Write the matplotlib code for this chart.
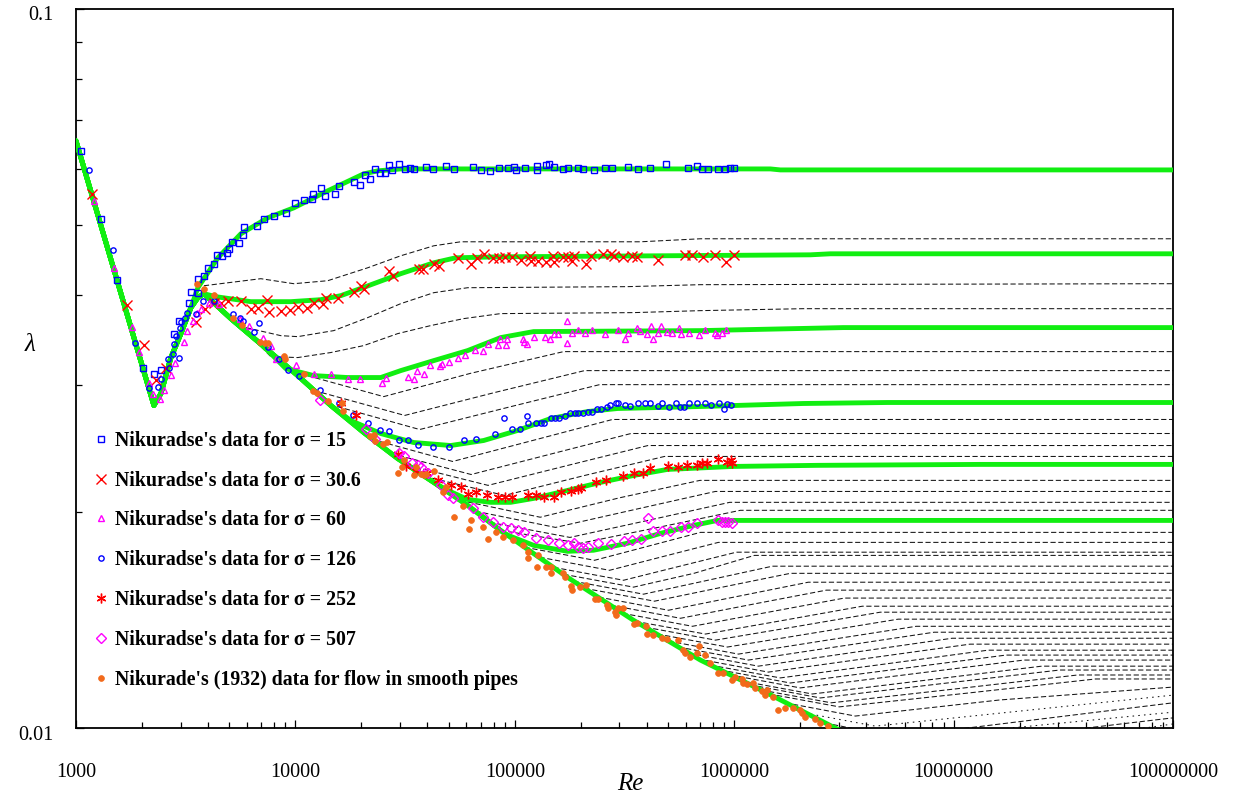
import matplotlib
matplotlib.use("Agg")
import matplotlib.pyplot as plt
from matplotlib.ticker import FixedLocator, FixedFormatter, LogLocator, NullFormatter
from matplotlib.transforms import ScaledTranslation

plt.rcParams['font.family'] = ['Liberation Serif', 'DejaVu Serif']

# ---------------- model curves (green) ----------------
trunk_re = [1000, 2265, 2438, 2708, 3006, 3339, 3593, 3828]
trunk_lam = [0.06555, 0.02809, 0.02919, 0.03275, 0.03536, 0.03842, 0.03967, 0.04018]

smooth_re = [5080, 7180, 10250, 14500, 20480, 29260, 41360, 60960, 86160,
             174000, 347600, 701600, 1416000, 2830000, 3382000]
smooth_lam = [0.0371, 0.03392, 0.03091, 0.02809, 0.02576, 0.0237, 0.0221, 0.0204, 0.01883,
              0.0162, 0.01412, 0.01243, 0.01118, 0.01003, 0.00976]

s15_re = [3593, 4432, 5642, 7486, 9833, 14040, 20480, 23720, 30200, 1462000, 1623000, 1e8]
s15_lam = [0.04096, 0.04508, 0.04868, 0.05124, 0.0529, 0.05586, 0.05898, 0.05955, 0.05992,
           0.05992, 0.05973, 0.05973]

s30_re = [4341, 6265, 9528, 13050, 16095, 20920, 30200, 42680, 53770, 86160, 2223000, 2742000, 1e8]
s30_lam = [0.0398, 0.03917, 0.03917, 0.03942, 0.03993, 0.0411, 0.04284, 0.04436, 0.04508,
           0.04522, 0.04551, 0.04566, 0.04566]

s60_re = [9043, 12130, 17320, 24480, 30200, 42680, 60960, 86160, 121800, 701600, 3143000, 1e8]
s60_lam = [0.03161, 0.03091, 0.03072, 0.03072, 0.03141, 0.03243, 0.03349, 0.03491, 0.03559,
           0.0357, 0.03605, 0.03605]

s126_re = [17870, 24480, 34600, 51010, 72100, 102960, 145600, 214600, 293900, 701600,
           2066000, 4983000, 1e8]
s126_lam = [0.02677, 0.02568, 0.02495, 0.02471, 0.02511, 0.02593, 0.02694, 0.02755, 0.02782,
            0.028, 0.02827, 0.02836, 0.02836]

s252_re = [48410, 60960, 77590, 95690, 121800, 174000, 245900, 347600, 496400, 991700,
           2392000, 13220000, 1e8]
s252_lam = [0.02147, 0.02079, 0.0206, 0.0206, 0.02086, 0.0214, 0.02196, 0.02245, 0.02289,
            0.02311, 0.02319, 0.02326, 0.02326]

s507_re = [90800, 121800, 174000, 228500, 326400, 461300, 652000, 838400, 1e8]
s507_lam = [0.01859, 0.01795, 0.01761, 0.01767, 0.01807, 0.01865, 0.01913, 0.01944, 0.01944]

# ---------------- intermediate roughness family (black) ----------------
family_re = [
    [3828, 6957, 9833, 14040, 21360, 30200, 42680, 56650, 374100, 701600, 1e8],
    [5947, 8580, 10250, 14950, 21360, 30200, 42680, 60960, 326400, 701600, 1e8],
    [6603, 7726, 10250, 14490, 20480, 29260, 41360, 58460, 86160, 347600, 701600, 2066000, 1e8],
    [9728, 25260, 62910, 166900, 1e8],
    [12170, 31500, 80920, 208000, 1e8],
    [14340, 36850, 94700, 243400, 1e8],
    [22500, 52080, 120500, 278800, 1e8],
    [27330, 63240, 146400, 338600, 1e8],
    [32640, 75510, 174800, 404400, 1e8],
    [38840, 89870, 208000, 481100, 1e8],
    [56370, 130600, 300000, 698000, 1e8],
    [66240, 153300, 354600, 820500, 1e8],
    [77060, 178400, 412900, 954400, 1e8],
    [86160, 199400, 461300, 1067000, 1e8],
    [110900, 230900, 402500, 701600, 1e8],
    [129700, 270200, 478400, 847000, 1e8],
    [150300, 313000, 565600, 1023000, 1e8],
    [166900, 347600, 655200, 1236000, 1e8],
    [185200, 386100, 758400, 1493000, 1e8],
    [208000, 433300, 883500, 1803000, 1e8],
    [240700, 501400, 1045000, 2176000, 1e8],
    [273100, 568900, 1223000, 2630000, 1e8],
    [309700, 645100, 1431000, 3176000, 1e8],
    [355000, 739500, 1683000, 3834000, 1e8],
    [394300, 821300, 1949000, 4631000, 1e8],
    [447000, 931100, 2281000, 5590000, 1e8],
    [501400, 1045000, 2657000, 6754000, 1e8],
    [556900, 1160000, 3077000, 8156000, 1e8],
    [618400, 1288000, 3565000, 9843000, 1e8],
    [686800, 1431000, 4127000, 11880000, 1e8],
    [779200, 1623000, 4830000, 14340000, 1e8],
    [865300, 1803000, 5590000, 17320000, 1e8],
    [961000, 2002000, 6475000, 20900000, 1e8],
    [1089000, 2270000, 7575000, 25220000, 1e8],
    [1185000, 2469000, 8680000, 30450000, 1e8],
    [1330000, 2771000, 10100000, 36750000, 1e8],
    [1446000, 3013000, 11490000, 44390000, 1e8],
]
family_lam = [
    [0.04122, 0.04216, 0.04149, 0.04189, 0.04366, 0.04537, 0.04684, 0.04745, 0.04745, 0.04791, 0.04791],
    [0.03605, 0.03513, 0.03502, 0.0357, 0.03722, 0.03892, 0.04031, 0.04096, 0.0411, 0.04136, 0.04149],
    [0.03447, 0.03285, 0.03275, 0.03328, 0.03403, 0.03536, 0.03628, 0.0371, 0.0377, 0.03782, 0.03806, 0.0383, 0.0383],
    [0.03131, 0.0289, 0.03114, 0.03338, 0.03338],
    [0.02947, 0.02721, 0.02928, 0.03141, 0.03141],
    [0.02818, 0.02601, 0.02796, 0.03003, 0.03003],
    [0.02519, 0.02348, 0.02511, 0.02686, 0.02686],
    [0.02409, 0.02252, 0.02405, 0.02568, 0.02568],
    [0.02319, 0.02175, 0.02319, 0.02471, 0.02471],
    [0.02238, 0.02106, 0.02245, 0.02386, 0.02386],
    [0.02073, 0.01964, 0.0209, 0.0221, 0.0221],
    [0.02002, 0.01901, 0.02014, 0.02133, 0.02133],
    [0.01932, 0.01841, 0.01947, 0.0206, 0.0206],
    [0.01883, 0.01807, 0.01904, 0.02008, 0.02008],
    [0.01784, 0.01711, 0.01789, 0.01871, 0.01871],
    [0.01728, 0.01657, 0.01733, 0.01812, 0.01812],
    [0.01673, 0.01605, 0.01679, 0.01756, 0.01756],
    [0.01636, 0.0157, 0.01641, 0.01738, 0.01738],
    [0.016, 0.01535, 0.01605, 0.01679, 0.01679],
    [0.01564, 0.01501, 0.0157, 0.01641, 0.01641],
    [0.01521, 0.01458, 0.01525, 0.01595, 0.01595],
    [0.01482, 0.01421, 0.01487, 0.01555, 0.01555],
    [0.01444, 0.01385, 0.01449, 0.01516, 0.01516],
    [0.01407, 0.01351, 0.01412, 0.01477, 0.01477],
    [0.01381, 0.01325, 0.01385, 0.01449, 0.01449],
    [0.01351, 0.01296, 0.01355, 0.01417, 0.01417],
    [0.01321, 0.01267, 0.01325, 0.01385, 0.01385],
    [0.01296, 0.01243, 0.013, 0.01359, 0.01359],
    [0.01271, 0.01219, 0.01275, 0.01333, 0.01333],
    [0.01247, 0.01196, 0.01251, 0.01308, 0.01308],
    [0.01223, 0.01174, 0.01227, 0.01283, 0.01283],
    [0.01204, 0.01155, 0.01208, 0.01263, 0.01263],
    [0.01185, 0.01137, 0.01189, 0.01243, 0.01243],
    [0.01162, 0.01115, 0.01166, 0.01219, 0.01219],
    [0.01148, 0.01101, 0.01152, 0.01204, 0.01204],
    [0.01129, 0.01084, 0.01133, 0.01185, 0.01185],
    [0.01115, 0.0107, 0.01118, 0.0117, 0.0117],
]

# curves still rising at the right edge (very large relative roughness)
tail_re = [
    [1711000, 3565000, 16260000, 1e8],
    [2110000, 4395000, 1e8],
    [2602000, 5421000, 1e8],
    [4170000, 1e8],
    [7820000, 1e8],
    [14640000, 1e8],
    [27430000, 1e8],
]
tail_lam = [
    [0.01084, 0.01039, 0.01094, 0.0114],
    [0.01049, 0.01006, 0.01111],
    [0.01016, 0.00972, 0.01084],
    [0.00957, 0.01052],
    [0.00943, 0.01033],
    [0.00931, 0.01013],
    [0.00923, 0.00997],
]

# ---------------- Nikuradse measurements ----------------
n15_re = [1054, 1300, 1537, 2018, 2265, 2438, 2795, 2944, 3268, 3339, 3593, 3593, 3828, 3991,
          4251, 4387, 4623, 4872, 4973, 5133, 5522, 5760, 5823, 6672, 7180, 7973, 9043, 9938,
          10920, 11870, 12000, 13050, 13610, 15110, 15750, 18440, 19640, 20700, 21810, 22990,
          24220, 25530, 26610, 27480, 29560, 31500, 33190, 34600, 39250, 42230, 48410, 52640,
          64230, 69860, 76780, 84340, 92710, 98750, 100900, 110900, 125700, 125700, 138200,
          142500, 150300, 165100, 174000, 193100, 203600, 228500, 256500, 278800, 326400,
          366100, 411100, 491300, 618400, 679800, 716300, 762600, 847000, 912000, 961000, 1000000]
n15_lam = [0.06348, 0.05107, 0.04202, 0.03171, 0.03111, 0.03151, 0.03536, 0.03686, 0.03904,
           0.04044, 0.04031, 0.04216, 0.04256, 0.04366, 0.04423, 0.04551, 0.04537, 0.0458, 0.0464,
           0.04745, 0.0473, 0.04853, 0.04979, 0.04994, 0.05107, 0.05157, 0.05206, 0.05375, 0.05427,
           0.05445, 0.05533, 0.0564, 0.05497, 0.05533, 0.05676, 0.05749, 0.05694, 0.05879, 0.05804,
           0.05993, 0.05917, 0.05917, 0.0607, 0.05973, 0.0609, 0.05993, 0.06012, 0.05993, 0.06031,
           0.05993, 0.0605, 0.05993, 0.06031, 0.05973, 0.05955, 0.06012, 0.06012, 0.06031, 0.05973,
           0.06012, 0.0605, 0.05973, 0.0607, 0.0609, 0.06031, 0.05993, 0.06012, 0.06012, 0.05993,
           0.05973, 0.06012, 0.06012, 0.06031, 0.05993, 0.06012, 0.0609, 0.06012, 0.0605, 0.05993,
           0.05993, 0.05993, 0.05993, 0.06012, 0.06012]

n30_re = [1182, 1707, 2040, 2314, 2570, 3519, 3868, 4251, 4575, 4923, 5642, 6265, 6741, 7409,
          7562, 8580, 9429, 10250, 11270, 12130, 13320, 13750, 15590, 18440, 19850, 20480, 26610,
          27760, 36450, 38020, 42680, 44960, 54890, 62910, 67000, 72100, 79220, 84340, 89870, 96700,
          106300, 116800, 118000, 127000, 138200, 148700, 150300, 165100, 174000, 181400, 185200,
          210200, 221400, 251100, 273100, 281800, 309700, 343900, 362400, 451500, 599600, 645100,
          724000, 821300, 921500, 1000000]
n30_lam = [0.05533, 0.03879, 0.03414, 0.03052, 0.03171, 0.03674, 0.0383, 0.03904, 0.03904, 0.03929,
           0.03929, 0.0383, 0.03842, 0.03942, 0.03794, 0.03806, 0.03818, 0.03854, 0.03842, 0.03904,
           0.03892, 0.03967, 0.03967, 0.04044, 0.04122, 0.04083, 0.04325, 0.04256, 0.04352, 0.04352,
           0.04423, 0.04394, 0.04508, 0.04423, 0.04508, 0.04566, 0.04508, 0.04508, 0.04522, 0.04522,
           0.04479, 0.04537, 0.04465, 0.04465, 0.04451, 0.04537, 0.04451, 0.04522, 0.04522, 0.04465,
           0.04537, 0.04423, 0.04537, 0.04566, 0.04566, 0.04537, 0.04522, 0.04537, 0.04522, 0.04479,
           0.04551, 0.04551, 0.04522, 0.04551, 0.04451, 0.04551]

n60_re = [1207, 1489, 1799, 1935, 2149, 2241, 2412, 2516, 2708, 2824, 3102, 3201, 3409, 3556, 3709,
          4032, 4477, 5583, 6133, 7103, 7726, 8143, 10040, 12130, 14490, 17320, 19640, 24740, 25800,
          32500, 34600, 35710, 38430, 40930, 45450, 46410, 49930, 54890, 59090, 65620, 71330, 75170,
          83490, 85270, 90800, 91760, 108500, 109700, 113200, 121800, 136700, 144100, 150300, 156700,
          172200, 172200, 181400, 195100, 208000, 226000, 256500, 293900, 316300, 329700, 362400,
          370200, 402500, 419800, 428700, 451500, 466100, 496400, 523100, 563000, 574900, 625200,
          694300, 739500, 821300, 838400, 883500, 921500]
n60_lam = [0.0541, 0.04366, 0.03616, 0.03338, 0.03023, 0.0291, 0.02872, 0.02956, 0.03101, 0.03222,
           0.03447, 0.0357, 0.03686, 0.03782, 0.0383, 0.03904, 0.03892, 0.0371, 0.03628, 0.03491,
           0.03403, 0.03264, 0.03202, 0.03111, 0.03111, 0.03062, 0.03062, 0.03023, 0.03072, 0.03081,
           0.03062, 0.03141, 0.03111, 0.03202, 0.03191, 0.03212, 0.03233, 0.03275, 0.03306, 0.0336,
           0.03349, 0.03425, 0.03414, 0.0348, 0.03414, 0.0348, 0.0348, 0.03447, 0.03425, 0.03502,
           0.03502, 0.0348, 0.03536, 0.03536, 0.03686, 0.03436, 0.03547, 0.03581, 0.03547, 0.03581,
           0.03536, 0.03581, 0.0348, 0.03547, 0.03605, 0.0357, 0.03536, 0.03628, 0.0348, 0.03547,
           0.03628, 0.03559, 0.03547, 0.03605, 0.03536, 0.03547, 0.03525, 0.03581, 0.03547, 0.03525,
           0.03547, 0.03581]

n126_re = [1146, 1473, 1857, 2149, 2362, 2438, 2623, 2650, 2765, 2795, 2854, 2944, 2976, 3006, 3135,
           3201, 3519, 3787, 4251, 5187, 5583, 5760, 6466, 6810, 7486, 8398, 9232, 10360, 12910,
           15750, 18250, 21360, 24220, 26610, 29560, 32500, 36080, 42230, 49930, 58460, 66310, 80930,
           88920, 96700, 105200, 113200, 114400, 124400, 131100, 135300, 145600, 151900, 158300,
           168700, 177700, 187200, 195100, 203600, 214600, 223700, 235800, 245900, 261900, 270200,
           287800, 296900, 316300, 333300, 366100, 390200, 411100, 451500, 471000, 507000, 545600,
           568900, 593400, 625200, 679800, 739500, 787400, 856300, 902500, 931100, 971100]
n126_lam = [0.05973, 0.04625, 0.03436, 0.02975, 0.02984, 0.03062, 0.03264, 0.03171, 0.03317, 0.03425,
            0.03513, 0.03275, 0.03605, 0.03674, 0.03722, 0.03782, 0.0377, 0.03929, 0.03929, 0.0377,
            0.03722, 0.03686, 0.03559, 0.03662, 0.03392, 0.03264, 0.03151, 0.03091, 0.02956, 0.02827,
            0.02729, 0.0266, 0.02601, 0.02585, 0.02519, 0.02519, 0.02479, 0.02463, 0.02463, 0.02519,
            0.02527, 0.0256, 0.02703, 0.02609, 0.02609, 0.02712, 0.02652, 0.02652, 0.0266, 0.02652,
            0.02703, 0.02703, 0.02703, 0.02712, 0.02738, 0.02746, 0.02746, 0.02738, 0.02755, 0.02755,
            0.02782, 0.02782, 0.02791, 0.02809, 0.02827, 0.02836, 0.02809, 0.028, 0.02827, 0.02827,
            0.02827, 0.028, 0.02827, 0.02791, 0.02836, 0.02791, 0.02791, 0.02827, 0.02827, 0.02836,
            0.02809, 0.02836, 0.02782, 0.02818, 0.02809]

n252_re = [16095, 18840, 29260, 31830, 35340, 39660, 44500, 51010, 56650, 60960, 66310, 74400, 83490,
           89870, 96700, 114400, 124400, 135300, 150300, 161700, 179500, 193100, 199400, 233400,
           259200, 309700, 347600, 382000, 415400, 501400, 556900, 612100, 679800, 716300, 754900,
           847000, 931100, 971100, 981200]
n252_lam = [0.02827, 0.02729, 0.02401, 0.02311, 0.02281, 0.02266, 0.0221, 0.02175, 0.02161, 0.02113,
            0.02126, 0.02106, 0.02093, 0.02093, 0.02093, 0.02106, 0.02106, 0.02093, 0.02093, 0.02126,
            0.02133, 0.02147, 0.02154, 0.02196, 0.0221, 0.02238, 0.02266, 0.02266, 0.02296, 0.02311,
            0.02304, 0.02319, 0.02319, 0.02334, 0.02334, 0.0237, 0.02341, 0.02356, 0.02334]

n507_re = [12920, 20920, 22990, 29560, 31170, 33880, 36080, 37240, 40070, 45930, 49420, 52080, 64230,
           71330, 79220, 87970, 95690, 102960, 109700, 124400, 141100, 158300, 174000, 185200, 193100,
           203600, 214600, 240700, 273100, 313000, 343900, 374100, 406700, 428700, 471000, 512300,
           574900, 618400, 679800, 847000, 883500, 912000, 940600, 981200]
n507_lam = [0.02863, 0.02609, 0.02527, 0.02409, 0.02386, 0.02334, 0.02319, 0.02304, 0.02266, 0.02175,
            0.02106, 0.02086, 0.0202, 0.01964, 0.01932, 0.01901, 0.01895, 0.01883, 0.01871, 0.01835,
            0.01824, 0.01807, 0.01795, 0.01807, 0.01784, 0.01778, 0.01784, 0.01807, 0.01801, 0.01818,
            0.01824, 0.0183, 0.01957, 0.01877, 0.01877, 0.01877, 0.01901, 0.01901, 0.01926, 0.01944,
            0.01932, 0.01932, 0.01932, 0.01926]

smooth_data_re = [3556, 3828, 4251, 5187, 5701, 6885, 7256, 7486, 8855, 8949, 10920, 12000, 12510,
                  14040, 16260, 16430, 21810, 22750, 22990, 24990, 26070, 29260, 30520, 31170, 34600,
                  35340, 37240, 38430, 39250, 42680, 46900, 48410, 52640, 57840, 61580, 62910, 71330,
                  75170, 81780, 87970, 97700, 108500, 114400, 114400, 125700, 127000, 138200, 145600,
                  145600, 165100, 168700, 179500, 181400, 197300, 210200, 230900, 240700, 261900,
                  264600, 284800, 287800, 296900, 309700, 347600, 362400, 394300, 402500, 428700,
                  471000, 496400, 556900, 587100, 599600, 631800, 679800, 694300, 739500, 779200,
                  847000, 893000, 981200, 1013000, 1089000, 1101000, 1148000, 1223000, 1249000,
                  1344000, 1387000, 1416000, 1509000, 1589000, 1711000, 1861000, 2002000, 2044000,
                  2110000, 2343000, 2469000, 2684000]
smooth_data_lam = [0.04149, 0.04083, 0.04006, 0.03722, 0.03639, 0.03447, 0.03436, 0.03436, 0.03296,
                   0.03264, 0.03111, 0.02947, 0.02919, 0.02854, 0.02827, 0.02764, 0.02544, 0.02552,
                   0.02511, 0.02487, 0.02503, 0.02266, 0.02304, 0.02356, 0.02245, 0.02304, 0.02259,
                   0.02245, 0.02259, 0.02281, 0.02126, 0.02161, 0.01964, 0.02034, 0.01889, 0.01944,
                   0.01901, 0.0183, 0.01871, 0.01841, 0.01824, 0.01795, 0.01756, 0.01722, 0.01673,
                   0.01739, 0.01673, 0.01673, 0.01641, 0.01641, 0.0162, 0.01575, 0.01555, 0.0157,
                   0.0158, 0.01511, 0.01511, 0.01482, 0.01468, 0.01449, 0.01435, 0.01468, 0.01468,
                   0.01394, 0.01399, 0.01385, 0.01351, 0.01346, 0.01333, 0.01329, 0.01325, 0.01283,
                   0.01271, 0.01255, 0.01271, 0.013, 0.01263, 0.01231, 0.01192, 0.01192, 0.01166,
                   0.01177, 0.0117, 0.01155, 0.01151, 0.01155, 0.01137, 0.01125, 0.01111, 0.01129,
                   0.01104, 0.01059, 0.01066, 0.01066, 0.01059, 0.01049, 0.01036, 0.01029, 0.01016,
                   0.01006]

x_tick_values = [1e3, 1e4, 1e5, 1e6, 1e7, 1e8]
x_tick_labels = ['1000', '10000', '100000', '1000000', '10000000', '100000000']
y_tick_values = [0.01, 0.1]
y_tick_labels = ['0.01', '0.1']

GREEN = '#11EE11'
ORANGE = '#F26A1B'

fig = plt.figure(figsize=(12.4, 7.98), dpi=100)
ax = fig.add_axes([76 / 1240, 70 / 798, 1097 / 1240, 719 / 798])
ax.set_xscale('log')
ax.set_yscale('log')
ax.set_xlim(1e3, 1e8)
ax.set_ylim(0.01, 0.1)

# black family
for r, l in zip(family_re, family_lam):
    ax.plot(r, l, color='#151515', lw=0.75, ls=(0, (5, 2.5)), zorder=2)
for i, (r, l) in enumerate(zip(tail_re, tail_lam)):
    style = (0, (5, 2.5)) if i % 2 == 0 else (0, (1.5, 4))
    ax.plot(r, l, color='#151515', lw=0.75, ls=style, zorder=2)

# green model curves
green_kw = dict(color=GREEN, lw=3.5, solid_capstyle='round', solid_joinstyle='round', zorder=3)
ax.plot(trunk_re + smooth_re, trunk_lam + smooth_lam, **green_kw)
ax.plot(trunk_re[:6] + s15_re, trunk_lam[:6] + s15_lam, **green_kw)
ax.plot(trunk_re + s30_re, trunk_lam + s30_lam, **green_kw)
ax.plot(trunk_re + smooth_re[:2] + s60_re, trunk_lam + smooth_lam[:2] + s60_lam, **green_kw)
ax.plot(trunk_re + smooth_re[:4] + s126_re, trunk_lam + smooth_lam[:4] + s126_lam, **green_kw)
ax.plot(trunk_re + smooth_re[:7] + s252_re, trunk_lam + smooth_lam[:7] + s252_lam, **green_kw)
ax.plot(trunk_re + smooth_re[:8] + s507_re, trunk_lam + smooth_lam[:8] + s507_lam, **green_kw)

# measurements
mk = dict(ls='none', zorder=5)
h1, = ax.plot(n15_re, n15_lam, marker='s', ms=4.0, mfc='none', mec='#0000FF', mew=1.0,
              label="Nikuradse's data for σ = 15", **mk)
h2, = ax.plot(n30_re, n30_lam, marker='x', ms=6.8, mec='#FF0000', mew=1.0,
              label="Nikuradse's data for σ = 30.6", **mk)
h3, = ax.plot(n60_re, n60_lam, marker='^', ms=5.0, mfc='none', mec='#FF00FF', mew=1.0,
              label="Nikuradse's data for σ = 60", **mk)
h4, = ax.plot(n126_re, n126_lam, marker='o', ms=3.8, mfc='none', mec='#0000FF', mew=1.0,
              label="Nikuradse's data for σ = 126", **mk)
h5, = ax.plot(n252_re, n252_lam, marker=(6, 2, 0), ms=7.0, mec='#FF0000', mew=1.0,
              label="Nikuradse's data for σ = 252", **mk)
h6, = ax.plot(n507_re, n507_lam, marker='D', ms=4.8, mfc='none', mec='#FF00FF', mew=1.0,
              label="Nikuradse's data for σ = 507", **mk)
h7, = ax.plot(smooth_data_re, smooth_data_lam, marker='o', ms=4.2, mfc=ORANGE, mec=ORANGE, mew=0.5,
              label="Nikurade's (1932) data for flow in smooth pipes", **mk)

leg = ax.legend(handles=[h1, h2, h3, h4, h5, h6, h7], loc='upper left',
                bbox_to_anchor=(0.0083, 0.4245), frameon=False, handlelength=0.8,
                handletextpad=0.31, labelspacing=1.0, borderaxespad=0.0,
                prop={'family': 'Liberation Serif', 'weight': 'bold', 'size': 14.3})

# axes, ticks and labels
for s in ax.spines.values():
    s.set_linewidth(1.3)
ax.xaxis.set_major_locator(FixedLocator(x_tick_values))
ax.xaxis.set_major_formatter(FixedFormatter(x_tick_labels))
ax.xaxis.set_minor_locator(LogLocator(base=10, subs=range(2, 10), numticks=20))
ax.xaxis.set_minor_formatter(NullFormatter())
ax.yaxis.set_major_locator(FixedLocator(y_tick_values))
ax.yaxis.set_major_formatter(FixedFormatter(y_tick_labels))
ax.yaxis.set_minor_locator(LogLocator(base=10, subs=range(2, 10), numticks=20))
ax.yaxis.set_minor_formatter(NullFormatter())
ax.tick_params(which='both', direction='in', top=False, right=False, width=0.9)
ax.tick_params(which='major', length=6)
ax.tick_params(which='minor', length=4.2)
ax.tick_params(axis='x', which='major', pad=25, labelsize=14.5)
ax.tick_params(axis='y', which='major', pad=16, labelsize=14.5)
shift = ScaledTranslation(0, -0.045, fig.dpi_scale_trans)
for lbl in ax.get_yticklabels():
    lbl.set_transform(lbl.get_transform() + shift)

fig.text(30 / 1240, 1 - 345 / 798, 'λ', fontsize=18, style='italic', ha='center', va='center')
fig.text(630 / 1240, 1 - 784 / 798, 'Re', fontsize=18, style='italic', ha='center', va='center')

fig.savefig('out.png', dpi=100)
